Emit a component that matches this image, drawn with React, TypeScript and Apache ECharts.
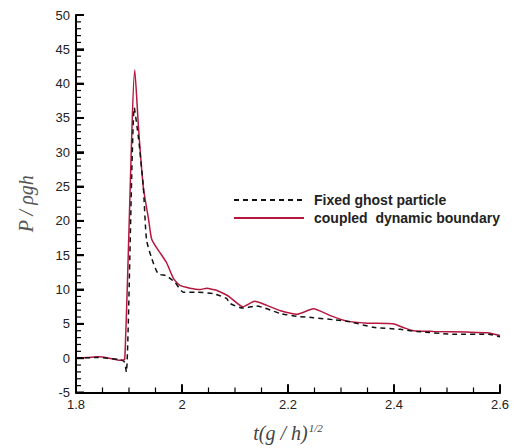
import React, { useEffect, useRef } from "react";
import * as echarts from "echarts";

const seriesNames = ["Fixed ghost particle", "coupled  dynamic boundary"];

const fixedGhost: [number, number][] = [
  [1.8, 0], [1.84, 0.1], [1.882, -0.2], [1.891, -0.5], [1.895, -2], [1.91, 36.5],
  [1.918, 32], [1.927, 25], [1.933, 17.3], [1.943, 14.5], [1.955, 12.3], [1.971, 12],
  [1.987, 11], [2.003, 9.6], [2.028, 9.6], [2.059, 9.4], [2.084, 8.7], [2.09, 8.0],
  [2.115, 7.3], [2.14, 7.6], [2.186, 6.5], [2.217, 6.1], [2.248, 5.9], [2.286, 5.6],
  [2.317, 5.3], [2.361, 4.5], [2.412, 4.2], [2.443, 3.9], [2.512, 3.5], [2.578, 3.5],
  [2.6, 3.1],
];

const coupledDynamic: [number, number][] = [
  [1.8, 0], [1.823, 0.1], [1.843, 0.2], [1.863, 0], [1.883, -0.3], [1.892, -0.1],
  [1.911, 42], [1.918, 33.5], [1.927, 24.9], [1.937, 20.2], [1.943, 17.3], [1.959, 15.3],
  [1.971, 13.9], [1.984, 11.6], [1.996, 10.6], [2.015, 10.2], [2.034, 10.0], [2.047, 10.2],
  [2.059, 10.0], [2.065, 9.9], [2.084, 9.2], [2.09, 8.9], [2.115, 7.5], [2.137, 8.3],
  [2.16, 7.7], [2.186, 6.9], [2.217, 6.4], [2.248, 7.2], [2.28, 6.2], [2.311, 5.4],
  [2.349, 5.1], [2.398, 5.0], [2.42, 4.4], [2.437, 4.0], [2.474, 3.9], [2.538, 3.8], [2.576, 3.7],
  [2.6, 3.3],
];

const xMajorTicks = [1.8, 2.0, 2.2, 2.4, 2.6];
const xMinorTicks = [1.85, 1.9, 1.95, 2.05, 2.1, 2.15, 2.25, 2.3, 2.35, 2.45, 2.5, 2.55];
const yMajorTicks = [-5, 0, 5, 10, 15, 20, 25, 30, 35, 40, 45, 50];
const yMinorTicks = [
  -4, -3, -2, -1, 1, 2, 3, 4, 6, 7, 8, 9, 11, 12, 13, 14, 16, 17, 18, 19,
  21, 22, 23, 24, 26, 27, 28, 29, 31, 32, 33, 34, 36, 37, 38, 39, 41, 42, 43, 44,
  46, 47, 48, 49,
];

const xTickLabels: Record<string, string> = { "1.8": "1.8", "2": "2", "2.2": "2.2", "2.4": "2.4", "2.6": "2.6" };

export default function App() {
  const ref = useRef<HTMLDivElement>(null);
  useEffect(() => {
    if (!ref.current) return;
    const chart = echarts.init(ref.current, null, { renderer: "svg" });
    const labelFont = { fontFamily: "Liberation Sans, Arial, sans-serif", fontSize: 13, color: "#222" };

    chart.setOption({
      animation: false,
      backgroundColor: "#ffffff",
      grid: { left: 76, right: 26, top: 15, bottom: 50, containLabel: false },
      legend: {
        orient: "vertical",
        left: 233,
        top: 193,
        itemWidth: 70,
        itemHeight: 14,
        itemGap: 4,
        padding: 0,
        itemStyle: { opacity: 0 },
        data: seriesNames,
        textStyle: { fontFamily: "Liberation Sans, Arial, sans-serif", fontSize: 14, fontWeight: "bold", color: "#222", padding: [0, 0, 0, 5] },
      },
      xAxis: {
        type: "value",
        min: 1.8,
        max: 2.6,
        interval: 0.2,
        name: "{i|t(g / h)}{s|1/2}",
        nameLocation: "middle",
        nameGap: 30,
        nameTextStyle: {
          rich: {
            i: { fontFamily: "Liberation Serif, Times New Roman, serif", fontStyle: "italic", fontSize: 20, color: "#444" },
            s: { fontFamily: "Liberation Serif, Times New Roman, serif", fontStyle: "italic", fontSize: 11, color: "#444", verticalAlign: "top", padding: [0, 0, 10, 1] },
          },
        },
        axisLine: { show: true, onZero: false, lineStyle: { color: "#000", width: 2 } },
        axisTick: { show: true, inside: true, length: 8, lineStyle: { color: "#000", width: 2 } },
        splitLine: { show: false },
        axisLabel: {
          ...labelFont,
          margin: 5,
          formatter: (v: number) => xTickLabels[String(Math.round(v * 10) / 10)] ?? "",
        },
      },
      yAxis: {
        type: "value",
        min: -5,
        max: 50,
        interval: 5,
        name: "P / ρgh",
        nameLocation: "middle",
        nameGap: 40,
        nameTextStyle: { fontFamily: "Liberation Serif, Times New Roman, serif", fontStyle: "italic", fontSize: 20, color: "#555" },
        axisLine: { show: true, onZero: false, lineStyle: { color: "#000", width: 2 } },
        axisTick: { show: true, inside: true, length: 8, lineStyle: { color: "#000", width: 2 } },
        splitLine: { show: false },
        axisLabel: { ...labelFont, margin: 6 },
      },
      series: [
        {
          name: seriesNames[0],
          type: "line",
          data: fixedGhost,
          showSymbol: false,
          symbol: "none",
          smooth: 0.2,
          lineStyle: { color: "#111", width: 1.5, type: [5, 4] },
          itemStyle: { color: "#111" },
          z: 3,
        },
        {
          name: seriesNames[1],
          type: "line",
          data: coupledDynamic,
          showSymbol: false,
          symbol: "none",
          smooth: 0.2,
          lineStyle: { color: "#b5173f", width: 1.5 },
          itemStyle: { color: "#b5173f" },
          z: 2,
        },
      ],
    });

    // Tick marks placed through the chart's own scales (convertToPixel)
    const toPx = (x: number, y: number) => chart.convertToPixel({ gridIndex: 0 }, [x, y]) as number[];
    const tickEls: any[] = [];
    const addX = (v: number, len: number, w: number) => {
      const p = toPx(v, -5);
      tickEls.push({ type: "line", silent: true, z: 100, shape: { x1: p[0], y1: p[1], x2: p[0], y2: p[1] - len }, style: { stroke: "#000", lineWidth: w } });
    };
    const addY = (v: number, len: number, w: number) => {
      const p = toPx(1.8, v);
      tickEls.push({ type: "line", silent: true, z: 100, shape: { x1: p[0], y1: p[1], x2: p[0] + len, y2: p[1] }, style: { stroke: "#000", lineWidth: w } });
    };
    xMajorTicks.forEach((v) => addX(v, 8, 2));
    xMinorTicks.forEach((v) => addX(v, 5, 1.2));
    yMajorTicks.forEach((v) => addY(v, 8, 2));
    yMinorTicks.forEach((v) => addY(v, 5, 1.2));
    chart.setOption({ graphic: { elements: tickEls } });

    return () => chart.dispose();
  }, []);
  return <div ref={ref} style={{ position: "fixed", left: 0, top: 0, width: 526, height: 448 }} />;
}
